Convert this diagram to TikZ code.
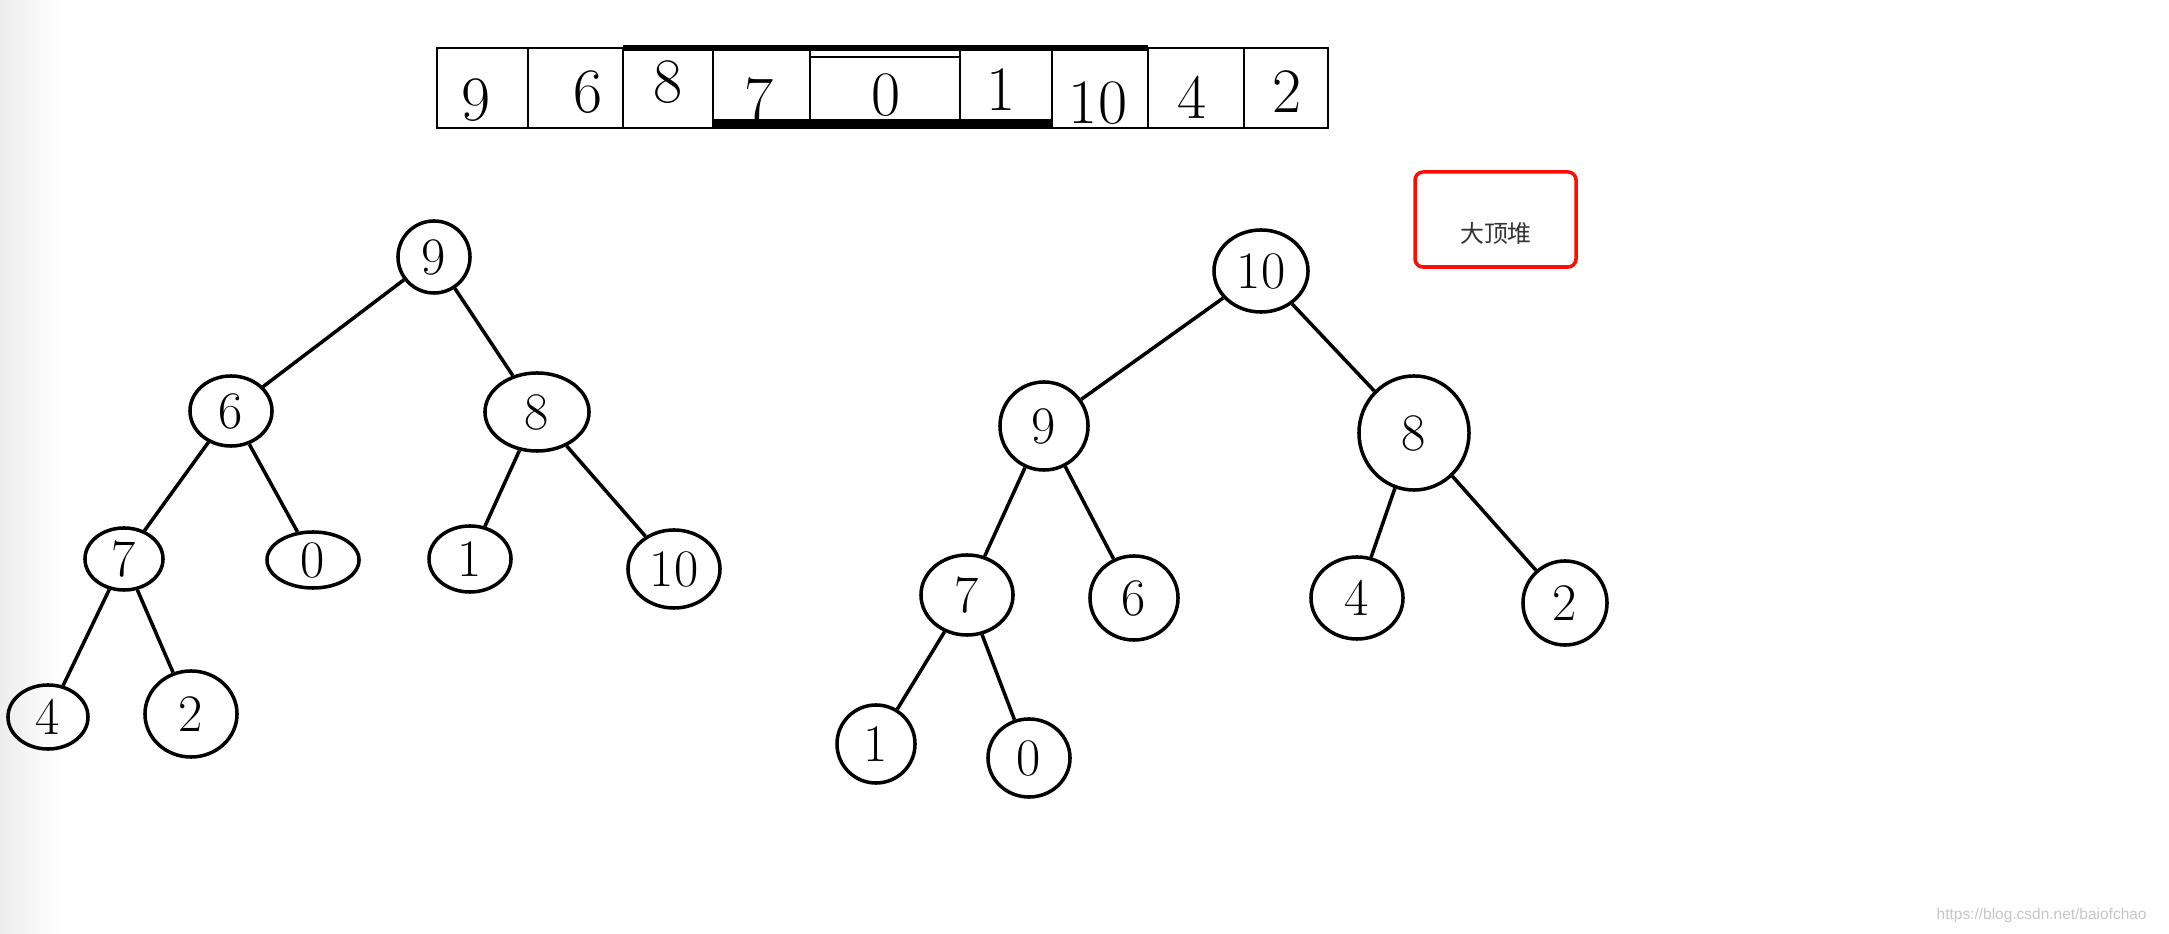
\documentclass[tikz,border=0pt]{standalone}
\usepackage{fontspec}
\newfontfamily\cjk{Noto Sans CJK SC}
\newfontfamily\wmfont{Liberation Sans}
\usepackage{tikz}
\usetikzlibrary{shapes.geometric}
\tikzset{
  hnode/.style={draw, ellipse, line width=1pt, inner sep=0pt, font=\fontsize{15}{18}\selectfont},
  edge/.style={line width=1pt},
  cell/.style={inner sep=0pt, font=\fontsize{18}{21}\selectfont}
}
\begin{document}
\begin{tikzpicture}[x=0.01cm, y=-0.01cm]
        \useasboundingbox (0,0) rectangle (2169,934);
        \fill[white] (0,0) rectangle (2169,934);
        \fill[left color=black!7, right color=white] (0,0) rectangle (62,934);
        % the array
        \draw[line width=0.8pt] (437,48) rectangle (1328,128);
        \foreach \x in {528,623,713,810,960,1052,1148,1244}
            \draw[line width=0.8pt] (\x,48) -- (\x,128);
        \draw[line width=1.8pt] (623,48) -- (1148,48);
        \draw[line width=0.8pt] (810,57) -- (960,57);
        \fill (713,119) rectangle (1052,128);
        \foreach \x/\y/\v [count=\i] in {476/100/9, 588/92/6, 668/82/8, 759/100/7, 886/95/0,
                                        1001/90/1, 1098/103/10, 1192/97/4, 1287/92/2}
            \node[cell] (a\i) at (\x,\y) {\v};
        % tree before heapify
        \node[hnode, minimum width=7.2mm, minimum height=7.2mm] (l9) at (434,257) {9};
        \node[hnode, minimum width=8.2mm, minimum height=7mm] (l6) at (231,411) {6};
        \node[hnode, minimum width=10.4mm, minimum height=7.8mm] (l8) at (537,412) {8};
        \node[hnode, minimum width=7.8mm, minimum height=6.2mm] (l7) at (124,559) {7};
        \node[hnode, minimum width=9.2mm, minimum height=5.6mm] (l0) at (313,560) {0};
        \node[hnode, minimum width=8.2mm, minimum height=6.6mm] (l1) at (470,559) {1};
        \node[hnode, minimum width=9.2mm, minimum height=7.8mm] (l10) at (674,569) {10};
        \node[hnode, minimum width=8mm, minimum height=6.4mm] (l4) at (48,717) {4};
        \node[hnode, minimum width=9.2mm, minimum height=8.6mm] (l2) at (191,714) {2};
        \foreach \a/\b in {l9/l6, l9/l8, l6/l7, l6/l0, l8/l1, l8/l10, l7/l4, l7/l2}
            \draw[edge] (\a) -- (\b);
        % max heap
        \node[hnode, minimum width=9.4mm, minimum height=8.2mm] (r10) at (1261,271) {10};
        \node[hnode, minimum width=8.8mm, minimum height=8.8mm] (r9) at (1044,426) {9};
        \node[hnode, minimum width=11mm, minimum height=11.4mm] (r8) at (1414,433) {8};
        \node[hnode, minimum width=9.2mm, minimum height=8mm] (r7) at (967,595) {7};
        \node[hnode, minimum width=8.8mm, minimum height=8.4mm] (r6) at (1134,598) {6};
        \node[hnode, minimum width=9.2mm, minimum height=8.2mm] (r4) at (1357,598) {4};
        \node[hnode, minimum width=8.4mm, minimum height=8.4mm] (r2) at (1565,603) {2};
        \node[hnode, minimum width=7.8mm, minimum height=7.8mm] (r1) at (876,744) {1};
        \node[hnode, minimum width=8.2mm, minimum height=7.8mm] (r0) at (1029,758) {0};
        \foreach \a/\b in {r10/r9, r10/r8, r9/r7, r9/r6, r8/r4, r8/r2, r7/r1, r7/r0}
            \draw[edge] (\a) -- (\b);
        % label
        \draw[red!90!orange, line width=1pt, rounded corners=0.8mm] (1415,172) rectangle (1576,267);
        \node[font=\cjk\fontsize{6.8}{8}\selectfont, text=black!80] (tag) at (1496,233) {大顶堆};
        \node[font=\wmfont\fontsize{4.4}{5}\selectfont, text=black!22, anchor=east] (wm) at (2159,915) {https://blog.csdn.net/baiofchao};
    \end{tikzpicture}
\end{document}
